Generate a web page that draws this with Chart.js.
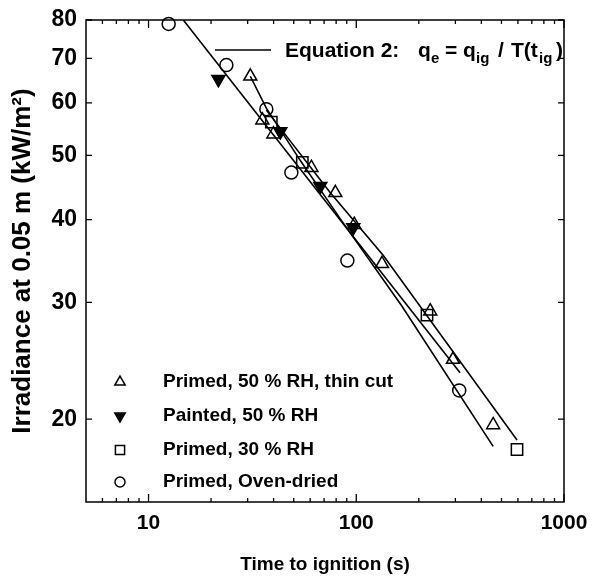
<!DOCTYPE html>
<html>
<head>
<meta charset="utf-8">
<script src="https://cdn.jsdelivr.net/npm/chart.js@4"></script>
<style>
body { margin: 0; background: #fff; }
</style>
</head>
<body>
<canvas id="chart" width="593" height="582"></canvas>
<script>
// time to ignition (s) / irradiance (kW/m2)
const thinCutT = [30.9, 35.3, 39.9, 60.8, 79.3, 97.8, 133, 227, 292, 456];
const thinCutQ = [65.8, 56.5, 53.8, 47.9, 43.9, 39.3, 34.3, 29.1, 24.6, 19.6];
const paintedT = [21.7, 43.1, 67.1, 96.7];
const paintedQ = [65.1, 54.3, 44.9, 38.9];
const rh30T = [39.0, 55.0, 219, 594];
const rh30Q = [56.1, 48.8, 28.7, 18.0];
const ovenT = [12.5, 23.7, 36.9, 48.7, 90.6, 313];
const ovenQ = [78.9, 68.4, 58.7, 47.1, 34.7, 22.1];

// equation 2 curves
const eqAT = [14.7, 316];
const eqAQ = [80, 23.5];
const eqBT = [30.9, 36.9, 53.8, 83.8, 166, 456];
const eqBQ = [65.8, 58.9, 49.1, 40.1, 29.6, 18.2];
const eqCT = [36.9, 75.0, 135, 594];
const eqCQ = [58.5, 43.9, 35.3, 18.6];

const xTicks = [10, 100, 1000];
const xMinor = [6, 7, 8, 9, 20, 30, 40, 50, 60, 70, 80, 90, 200, 300, 400, 500, 600, 700, 800, 900];
const yTicks = [20, 30, 40, 50, 60, 70, 80];

const legendNames = ['Primed, 50 % RH, thin cut', 'Painted, 50 % RH', 'Primed, 30 % RH', 'Primed, Oven-dried'];

const FONT = "'Liberation Sans', Arial, sans-serif";
Chart.defaults.font.family = FONT;
Chart.defaults.color = '#000';

const pts = (xs, ys) => xs.map((x, i) => ({ x: x, y: ys[i] }));

const curve = (xs, ys) => ({
  type: 'line', data: pts(xs, ys), showLine: true, borderColor: '#000',
  borderWidth: 1.6, pointRadius: 0, fill: false, tension: 0
});

const marker = (xs, ys, style, r, filled, rot) => ({
  type: 'scatter', data: pts(xs, ys), pointStyle: style, pointRadius: r,
  pointRotation: rot || 0, borderColor: '#000', borderWidth: 1.5,
  backgroundColor: filled ? '#000' : 'rgba(0,0,0,0)', clip: false
});

const markerDefs = [
  { style: 'triangle', r: 7.5, filled: false, rot: 0 },
  { style: 'triangle', r: 7.5, filled: true, rot: 180 },
  { style: 'rect', r: 8, filled: false, rot: 0 },
  { style: 'circle', r: 6.5, filled: false, rot: 0 }
];

// box round the plot with inward ticks on all four sides
const boxTicks = {
  id: 'boxTicks',
  afterDraw(chart) {
    const { ctx, chartArea: a, scales } = chart;
    ctx.save();
    ctx.strokeStyle = '#000';
    ctx.lineWidth = 1.5;
    ctx.strokeRect(a.left, a.top, a.right - a.left, a.bottom - a.top);
    ctx.lineWidth = 1.3;
    ctx.beginPath();
    const xt = (v, len) => {
      const px = scales.x.getPixelForValue(v);
      ctx.moveTo(px, a.bottom); ctx.lineTo(px, a.bottom - len);
      ctx.moveTo(px, a.top); ctx.lineTo(px, a.top + len);
    };
    xTicks.forEach(v => xt(v, 8));
    xMinor.forEach(v => xt(v, 4));
    yTicks.forEach(v => {
      const py = scales.y.getPixelForValue(v);
      ctx.moveTo(a.left, py); ctx.lineTo(a.left + 6, py);
      ctx.moveTo(a.right, py); ctx.lineTo(a.right - 6, py);
    });
    ctx.stroke();
    ctx.restore();
  }
};

// "Equation 2" key at the top
const eqLabel = {
  id: 'eqLabel',
  afterDraw(chart) {
    const { ctx, chartArea: a } = chart;
    ctx.save();
    ctx.beginPath();
    ctx.rect(a.left, a.top, a.right - a.left - 1, a.bottom - a.top);
    ctx.clip();
    ctx.strokeStyle = '#000';
    ctx.lineWidth = 1.6;
    ctx.beginPath();
    ctx.moveTo(a.left + 129, a.top + 30);
    ctx.lineTo(a.left + 185, a.top + 30);
    ctx.stroke();
    // text piece, offset from the plot's left edge, subscript flag
    const parts = [['Equation 2:', 199, 0], ['q', 332, 0], ['e', 345, 1], ['=', 359, 0], ['q', 377, 0],
      ['ig', 390, 1], ['/', 412, 0], ['T(t', 425, 0], ['ig', 453, 1], [')', 470, 0]];
    const base = a.top + 37;
    ctx.fillStyle = '#000';
    ctx.textBaseline = 'alphabetic';
    parts.forEach(p => {
      ctx.font = p[2] ? 'bold 15px ' + FONT : 'bold 21px ' + FONT;
      ctx.fillText(p[0], a.left + p[1], base + (p[2] ? 6 : 0));
    });
    ctx.restore();
  }
};

// marker key in the lower left corner
const legendBox = {
  id: 'legendBox',
  afterDraw(chart) {
    const { ctx, chartArea: a } = chart;
    const rows = [120, 86, 52, 20];
    ctx.save();
    ctx.strokeStyle = '#000';
    ctx.lineWidth = 1.5;
    ctx.textBaseline = 'middle';
    markerDefs.forEach((m, i) => {
      const y = a.bottom - rows[i];
      ctx.fillStyle = m.filled ? '#000' : 'rgba(0,0,0,0)';
      Chart.helpers.drawPoint(ctx, { pointStyle: m.style, radius: m.r - 1.5, rotation: m.rot, borderWidth: 1.5 }, a.left + 34, y);
      ctx.fillStyle = '#000';
      ctx.font = 'bold 19px ' + FONT;
      ctx.fillText(legendNames[i], a.left + 77, y);
    });
    ctx.restore();
  }
};

const series = [[thinCutT, thinCutQ], [paintedT, paintedQ], [rh30T, rh30Q], [ovenT, ovenQ]];

new Chart(document.getElementById('chart'), {
  type: 'scatter',
  data: {
    datasets: [
      curve(eqAT, eqAQ),
      curve(eqBT, eqBQ),
      curve(eqCT, eqCQ)
    ].concat(series.map((s, i) => marker(s[0], s[1], markerDefs[i].style, markerDefs[i].r, markerDefs[i].filled, markerDefs[i].rot)))
  },
  options: {
    responsive: false,
    animation: false,
    layout: { padding: { left: 0, right: 29, top: 20, bottom: 0 } },
    plugins: { legend: { display: false }, tooltip: { enabled: false } },
    scales: {
      x: {
        type: 'logarithmic', min: 5, max: 1000,
        grid: { display: false }, border: { display: false },
        afterBuildTicks: s => { s.ticks = xTicks.map(v => ({ value: v })); },
        afterFit: s => { s.height = 80; },
        ticks: { padding: 1, font: { size: 21, weight: 'bold' }, maxRotation: 0, callback: v => String(v) },
        title: { display: true, text: 'Time to ignition (s)', font: { size: 19, weight: 'bold' }, padding: { top: 0, bottom: 6 } }
      },
      y: {
        type: 'logarithmic', min: 15, max: 80,
        grid: { display: false }, border: { display: false },
        afterBuildTicks: s => { s.ticks = yTicks.map(v => ({ value: v })); },
        afterFit: s => { s.width = 86; },
        ticks: { padding: 1, font: { size: 23, weight: 'bold' }, callback: v => String(v) },
        title: { display: true, text: 'Irradiance at 0.05 m (kW/m²)', font: { size: 26, weight: 'bold' }, padding: { top: 7, bottom: 0 } }
      }
    }
  },
  plugins: [boxTicks, eqLabel, legendBox]
});
</script>
</body>
</html>
